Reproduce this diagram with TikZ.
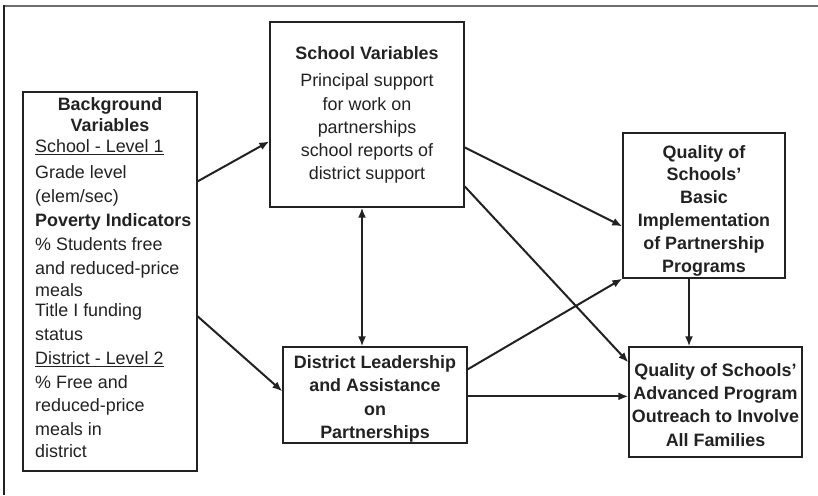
\documentclass[tikz,border=0pt]{standalone}
\usepackage{fontspec}
\setmainfont{Liberation Sans}
\usetikzlibrary{arrows.meta,calc}
\definecolor{ink}{HTML}{222222}
\definecolor{rimgray}{HTML}{6E6E6E}

\begin{document}
\begin{tikzpicture}[x=1pt,y=-1pt,
  box/.style={draw=ink, line width=1.3pt, inner sep=0pt, rectangle},
  txt/.style={inner sep=0pt, text=ink, font=\fontsize{17.9}{23.3}\selectfont, align=center},
  txtb/.style={txt, font=\fontsize{17.9}{23.3}\selectfont\bfseries},
  tip/.tip={Latex[length=10pt,width=8pt]},
  arr/.style={draw=ink, line width=2pt, -tip},
  arrboth/.style={draw=ink, line width=2pt, tip-tip},
]
\useasboundingbox (0,0) rectangle (818,495);
\fill[white] (0,0) rectangle (818,495);

% page rule (top and left)
\draw[rimgray, line width=2pt] (4,6) -- (818,6);
\draw[ink, line width=1.5pt] (4,5) -- (4,495);

% boxes
\node[box, minimum width=174pt, minimum height=379pt] (bg) at (110,281.5) {};
\node[box, minimum width=194pt, minimum height=185pt] (school) at (367,114.5) {};
\node[box, minimum width=162pt, minimum height=145pt] (basic) at (704,205.5) {};
\node[box, minimum width=184pt, minimum height=96pt] (district) at (375,395) {};
\node[box, minimum width=173pt, minimum height=110pt] (adv) at (715.5,402) {};

% texts
\node[txtb, anchor=north, font=\fontsize{17.9}{21}\selectfont\bfseries] (bgtitle) at (110,97.6) {Background\\Variables};
\node[txt, anchor=north west, align=left] (bgbody) at (35,139.5)
  {\underline{School - Level 1}\\[3pt]
   Grade level\\
   (elem/sec)\\[1pt]
   \textbf{Poverty Indicators}\\[1pt]
   \% Students free\\
   and reduced-price\\[-1pt]
   meals\\[-3pt]
   Title I funding\\
   status\\[1pt]
   \underline{District - Level 2}\\[1pt]
   \% Free and\\
   reduced-price\\
   meals in\\[-1pt]
   district};

\node[txt, anchor=north] (schooltext) at (367,46.6)
  {\textbf{School Variables}\\[3.7pt]
   Principal support\\
   for work on\\
   partnerships\\
   school reports of\\
   district support};

\node[txtb, anchor=north, font=\fontsize{17.9}{22.8}\selectfont\bfseries] (basictext) at (704,145)
  {Quality of\\Schools’\\Basic\\Implementation\\of Partnership\\Programs};

\node[txtb, anchor=north] (districttext) at (375,355.5)
  {District Leadership\\and Assistance\\on\\Partnerships};

\node[txtb, anchor=north] (advtext) at (715.5,363)
  {Quality of Schools’\\Advanced Program\\Outreach to Involve\\All Families};

% connectors
\coordinate (vx) at (362,0);
\coordinate (dx) at (689,0);
\draw[arr] ($(bg.north east)+(0,90)$) -- ($(school.north west)+(0,120)$);
\draw[arr] ($(bg.north east)+(0,225)$) -- ($(district.north west)+(0,45)$);
\draw[arrboth] (vx |- school.south) -- (vx |- district.north);
\draw[arr] ($(school.north east)+(0,126)$) -- ($(basic.north west)+(0,94)$);
\draw[arr] ($(school.north east)+(0,165)$) -- ($(adv.north west)+(0,16)$);
\draw[arr] ($(district.north east)+(0,23)$) -- (basic.south west);
\draw[arr] ($(district.north east)+(0,50)$) -- ($(adv.north west)+(0,50)$);
\draw[arr] (dx |- basic.south) -- (dx |- adv.north);
\end{tikzpicture}
\end{document}
